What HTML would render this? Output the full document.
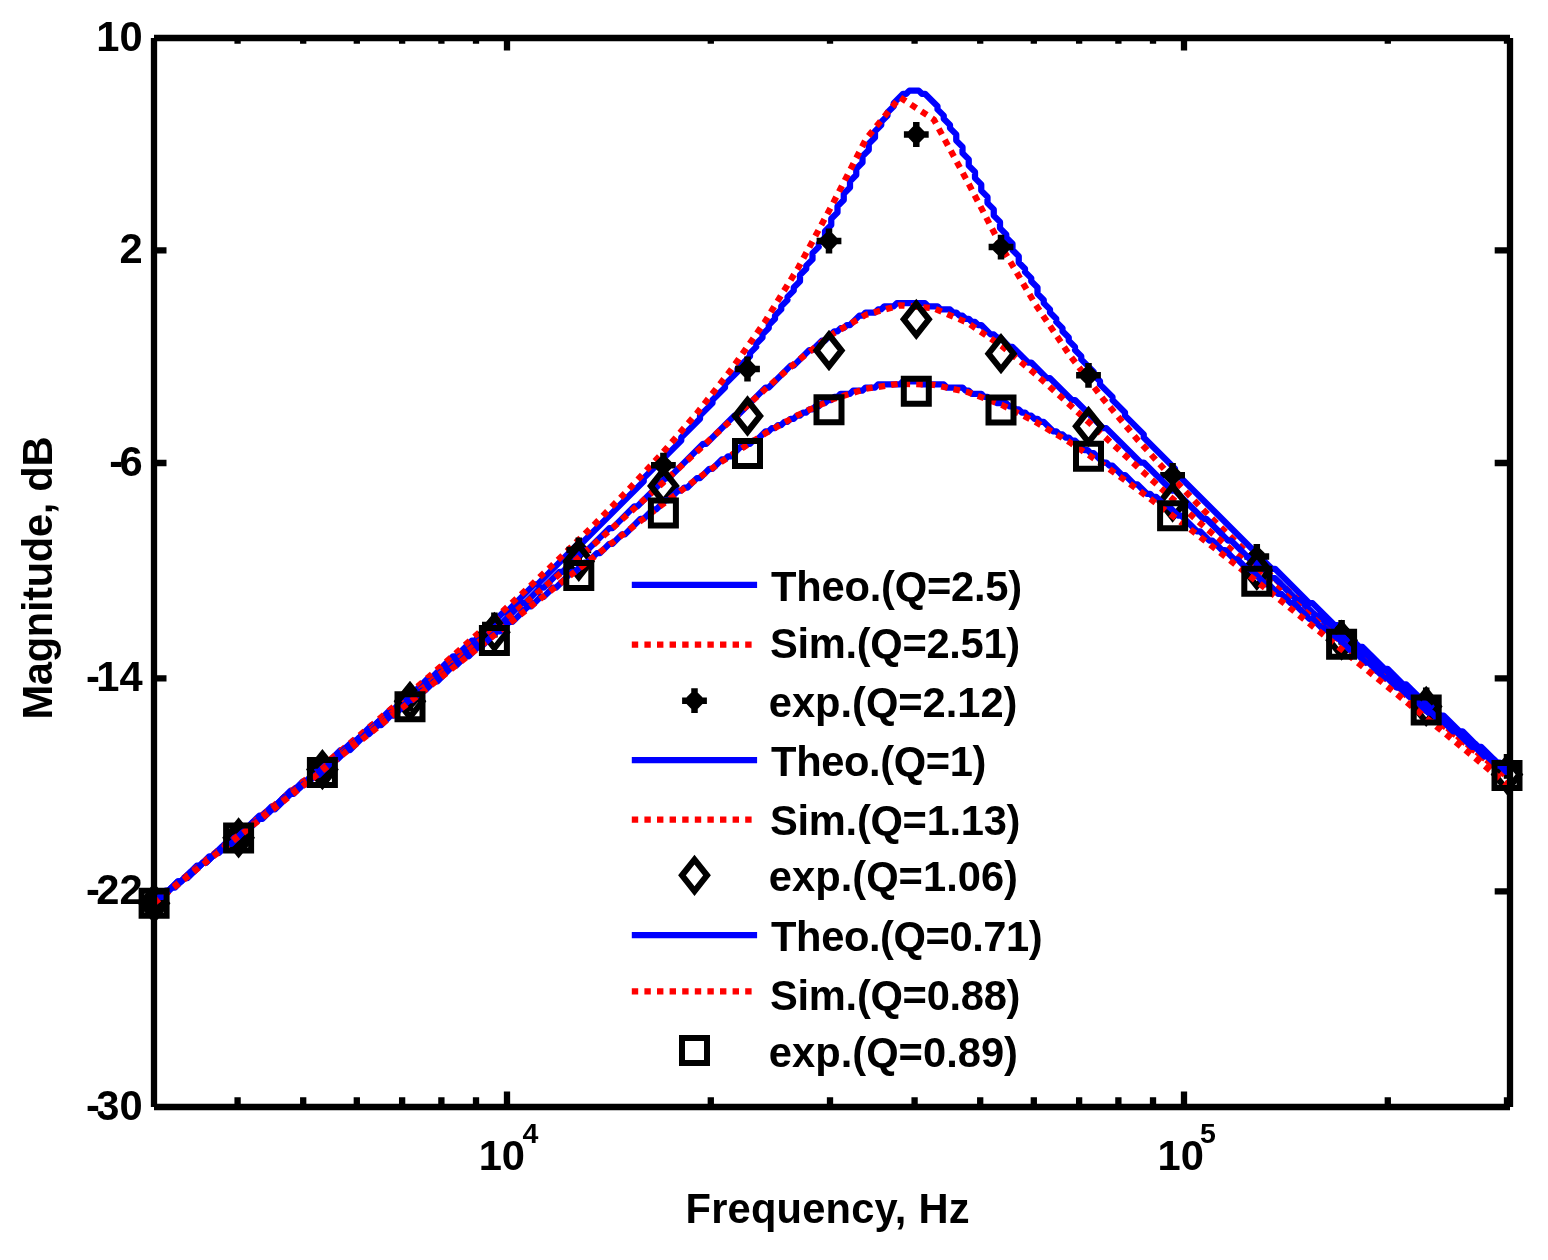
<!DOCTYPE html>
<html lang="en"><head><meta charset="utf-8"><title>Magnitude response</title>
<style>html,body{margin:0;padding:0;background:#fff}svg{display:block}</style></head>
<body>
<svg width="1548" height="1260" viewBox="0 0 1548 1260" style="display:block">
<rect width="1548" height="1260" fill="#fff"/>
<path d="M154.00,903.12 L156.25,900.88 L156.25,900.00 L165.62,890.62 L168.75,890.62 L178.12,881.25 L181.25,881.25 L196.88,865.62 L200.00,865.62 L209.38,856.25 L212.50,856.25 L228.12,840.62 L231.25,840.62 L240.62,831.25 L243.75,831.25 L259.38,815.62 L262.50,815.62 L271.88,806.25 L275.00,806.25 L290.62,790.62 L293.75,790.62 L303.12,781.25 L306.25,781.25 L321.88,765.62 L325.00,765.62 L340.62,750.00 L343.75,750.00 L353.12,740.62 L356.25,740.62 L371.88,725.00 L375.00,725.00 L390.62,709.38 L393.75,709.38 L409.38,693.75 L412.50,693.75 L428.12,678.12 L431.25,678.12 L453.12,656.25 L456.25,656.25 L471.88,640.62 L475.00,640.62 L503.12,612.50 L506.25,612.50 L534.38,584.38 L537.50,584.38 L578.12,543.75 L581.25,543.75 L643.75,481.25 L643.75,478.12 L681.25,440.62 L681.25,437.50 L700.00,418.75 L700.00,415.62 L712.50,403.12 L712.50,400.00 L725.00,387.50 L725.00,384.38 L737.50,371.88 L737.50,368.75 L750.00,356.25 L750.00,353.12 L756.25,346.88 L756.25,343.75 L762.50,337.50 L762.50,334.38 L768.75,328.12 L768.75,325.00 L775.00,318.75 L775.00,315.62 L781.25,309.38 L781.25,306.25 L787.50,300.00 L787.50,296.88 L793.75,290.62 L793.75,287.50 L800.00,281.25 L800.00,275.00 L806.25,268.75 L806.25,265.62 L812.50,259.38 L812.50,253.12 L818.75,246.88 L818.75,243.75 L825.00,237.50 L825.00,231.25 L831.25,225.00 L831.25,218.75 L837.50,212.50 L837.50,206.25 L843.75,200.00 L843.75,193.75 L850.00,187.50 L850.00,181.25 L856.25,175.00 L856.25,168.75 L862.50,162.50 L862.50,156.25 L868.75,150.00 L868.75,143.75 L875.00,137.50 L875.00,131.25 L881.25,125.00 L881.25,121.88 L887.50,115.62 L887.50,112.50 L893.75,106.25 L893.75,103.12 L903.12,93.75 L906.25,93.75 L909.38,90.62 L918.75,90.62 L921.88,93.75 L925.00,93.75 L937.50,106.25 L937.50,109.38 L943.75,115.62 L943.75,118.75 L950.00,125.00 L950.00,128.12 L956.25,134.38 L956.25,140.62 L962.50,146.88 L962.50,153.12 L968.75,159.38 L968.75,165.62 L975.00,171.88 L975.00,178.12 L981.25,184.38 L981.25,190.62 L987.50,196.88 L987.50,203.12 L993.75,209.38 L993.75,215.62 L1000.00,221.88 L1000.00,228.12 L1006.25,234.38 L1006.25,237.50 L1012.50,243.75 L1012.50,250.00 L1018.75,256.25 L1018.75,262.50 L1025.00,268.75 L1025.00,271.88 L1031.25,278.12 L1031.25,281.25 L1037.50,287.50 L1037.50,293.75 L1043.75,300.00 L1043.75,303.12 L1050.00,309.38 L1050.00,312.50 L1056.25,318.75 L1056.25,321.88 L1062.50,328.12 L1062.50,331.25 L1068.75,337.50 L1068.75,340.62 L1075.00,346.88 L1075.00,350.00 L1081.25,356.25 L1081.25,359.38 L1093.75,371.88 L1093.75,375.00 L1100.00,381.25 L1100.00,384.38 L1112.50,396.88 L1112.50,400.00 L1125.00,412.50 L1125.00,415.62 L1143.75,434.38 L1143.75,437.50 L1175.00,468.75 L1175.00,471.88 L1271.88,568.75 L1275.00,568.75 L1309.38,603.12 L1312.50,603.12 L1334.38,625.00 L1337.50,625.00 L1359.38,646.88 L1362.50,646.88 L1384.38,668.75 L1387.50,668.75 L1403.12,684.38 L1406.25,684.38 L1421.88,700.00 L1425.00,700.00 L1440.62,715.62 L1443.75,715.62 L1459.38,731.25 L1462.50,731.25 L1478.12,746.88 L1481.25,746.88 L1496.88,762.50 L1500.00,762.50 L1506.25,768.75 L1507.00,768.75" fill="none" stroke="#0000ff" stroke-width="6.25" stroke-linejoin="round"/>
<path d="M154.00,901.82 L155.30,900.78 L189.15,873.67 L223.00,846.57 L256.85,819.34 L290.70,791.92 L324.55,764.27 L358.40,736.33 L392.25,708.01 L426.10,679.25 L459.95,649.64 L493.80,619.41 L527.65,588.44 L561.50,556.57 L595.35,523.51 L629.20,488.88 L663.05,452.27 L696.90,413.19 L730.75,370.28 L764.60,322.22 L798.45,267.35 L832.30,204.65 L866.15,138.84 L900.00,97.31 L933.85,119.56 L967.70,181.94 L1001.55,246.85 L1035.40,304.35 L1069.25,354.49 L1103.10,398.91 L1136.95,439.07 L1170.80,476.23 L1204.65,511.29 L1238.50,544.54 L1272.35,576.39 L1306.20,607.17 L1340.05,637.13 L1373.90,666.44 L1407.75,695.05 L1441.60,723.15 L1475.45,750.93 L1507.00,776.61" fill="none" stroke="#ff0000" stroke-width="6.25" stroke-dasharray="6.5 6.1" stroke-linejoin="round"/>
<g fill="none" stroke="#000" stroke-width="6.5" stroke-linejoin="miter" stroke-miterlimit="10">
<path d="M141.70,903.30H166.50M154.10,890.90V915.70M148.45,897.65L159.75,908.95M148.45,908.95L159.75,897.65"/>
<path d="M226.20,838.00H251.00M238.60,825.60V850.40M232.95,832.35L244.25,843.65M232.95,843.65L244.25,832.35"/>
<path d="M310.00,770.00H334.80M322.40,757.60V782.40M316.75,764.35L328.05,775.65M316.75,775.65L328.05,764.35"/>
<path d="M397.60,699.00H422.40M410.00,686.60V711.40M404.35,693.35L415.65,704.65M404.35,704.65L415.65,693.35"/>
<path d="M482.00,625.00H506.80M494.40,612.60V637.40M488.75,619.35L500.05,630.65M488.75,630.65L500.05,619.35"/>
<path d="M566.40,550.00H591.20M578.80,537.60V562.40M573.15,544.35L584.45,555.65M573.15,555.65L584.45,544.35"/>
<path d="M651.00,465.20H675.80M663.40,452.80V477.60M657.75,459.55L669.05,470.85M657.75,470.85L669.05,459.55"/>
<path d="M735.10,369.00H759.90M747.50,356.60V381.40M741.85,363.35L753.15,374.65M741.85,374.65L753.15,363.35"/>
<path d="M816.60,241.00H841.40M829.00,228.60V253.40M823.35,235.35L834.65,246.65M823.35,246.65L834.65,235.35"/>
<path d="M903.90,134.50H928.70M916.30,122.10V146.90M910.65,128.85L921.95,140.15M910.65,140.15L921.95,128.85"/>
<path d="M988.60,247.10H1013.40M1001.00,234.70V259.50M995.35,241.45L1006.65,252.75M995.35,252.75L1006.65,241.45"/>
<path d="M1076.10,375.30H1100.90M1088.50,362.90V387.70M1082.85,369.65L1094.15,380.95M1082.85,380.95L1094.15,369.65"/>
<path d="M1160.20,475.30H1185.00M1172.60,462.90V487.70M1166.95,469.65L1178.25,480.95M1166.95,480.95L1178.25,469.65"/>
<path d="M1244.40,556.40H1269.20M1256.80,544.00V568.80M1251.15,550.75L1262.45,562.05M1251.15,562.05L1262.45,550.75"/>
<path d="M1329.20,632.40H1354.00M1341.60,620.00V644.80M1335.95,626.75L1347.25,638.05M1335.95,638.05L1347.25,626.75"/>
<path d="M1413.80,700.00H1438.60M1426.20,687.60V712.40M1420.55,694.35L1431.85,705.65M1420.55,705.65L1431.85,694.35"/>
<path d="M1494.60,766.40H1519.40M1507.00,754.00V778.80M1501.35,760.75L1512.65,772.05M1501.35,772.05L1512.65,760.75"/>
</g>
<path d="M154.00,903.12 L156.25,900.88 L156.25,900.00 L159.38,896.88 L162.50,896.88 L178.12,881.25 L181.25,881.25 L190.62,871.88 L193.75,871.88 L203.12,862.50 L206.25,862.50 L221.88,846.88 L225.00,846.88 L234.38,837.50 L237.50,837.50 L253.12,821.88 L256.25,821.88 L265.62,812.50 L268.75,812.50 L284.38,796.88 L287.50,796.88 L296.88,787.50 L300.00,787.50 L315.62,771.88 L318.75,771.88 L328.12,762.50 L331.25,762.50 L346.88,746.88 L350.00,746.88 L359.38,737.50 L362.50,737.50 L378.12,721.88 L381.25,721.88 L390.62,712.50 L393.75,712.50 L409.38,696.88 L412.50,696.88 L428.12,681.25 L431.25,681.25 L440.62,671.88 L443.75,671.88 L459.38,656.25 L462.50,656.25 L478.12,640.62 L481.25,640.62 L496.88,625.00 L500.00,625.00 L521.88,603.12 L525.00,603.12 L540.62,587.50 L543.75,587.50 L559.38,571.88 L562.50,571.88 L584.38,550.00 L587.50,550.00 L609.38,528.12 L612.50,528.12 L634.38,506.25 L637.50,506.25 L665.62,478.12 L668.75,478.12 L703.12,443.75 L706.25,443.75 L734.38,415.62 L737.50,415.62 L765.62,387.50 L768.75,387.50 L790.62,365.62 L793.75,365.62 L809.38,350.00 L812.50,350.00 L821.88,340.62 L825.00,340.62 L834.38,331.25 L837.50,331.25 L840.62,328.12 L843.75,328.12 L846.88,325.00 L850.00,325.00 L859.38,315.62 L862.50,315.62 L865.62,312.50 L875.00,312.50 L878.12,309.38 L881.25,309.38 L884.38,306.25 L893.75,306.25 L896.88,303.12 L925.00,303.12 L928.12,306.25 L937.50,306.25 L940.62,309.38 L950.00,309.38 L953.12,312.50 L956.25,312.50 L959.38,315.62 L962.50,315.62 L965.62,318.75 L968.75,318.75 L971.88,321.88 L975.00,321.88 L978.12,325.00 L981.25,325.00 L990.62,334.38 L993.75,334.38 L996.88,337.50 L1000.00,337.50 L1009.38,346.88 L1012.50,346.88 L1028.12,362.50 L1031.25,362.50 L1046.88,378.12 L1050.00,378.12 L1071.88,400.00 L1075.00,400.00 L1103.12,428.12 L1106.25,428.12 L1140.62,462.50 L1143.75,462.50 L1171.88,490.62 L1175.00,490.62 L1203.12,518.75 L1206.25,518.75 L1228.12,540.62 L1231.25,540.62 L1253.12,562.50 L1256.25,562.50 L1271.88,578.12 L1275.00,578.12 L1296.88,600.00 L1300.00,600.00 L1315.62,615.62 L1318.75,615.62 L1334.38,631.25 L1337.50,631.25 L1353.12,646.88 L1356.25,646.88 L1371.88,662.50 L1375.00,662.50 L1390.62,678.12 L1393.75,678.12 L1409.38,693.75 L1412.50,693.75 L1421.88,703.12 L1425.00,703.12 L1440.62,718.75 L1443.75,718.75 L1459.38,734.38 L1462.50,734.38 L1471.88,743.75 L1475.00,743.75 L1490.62,759.38 L1493.75,759.38 L1503.12,768.75 L1506.25,768.75 L1507.00,769.50 L1507.00,771.88" fill="none" stroke="#0000ff" stroke-width="6.25" stroke-linejoin="round"/>
<path d="M154.00,902.49 L155.30,901.45 L189.15,874.54 L223.00,847.71 L256.85,820.84 L290.70,793.91 L324.55,766.93 L358.40,739.86 L392.25,712.71 L426.10,685.42 L459.95,657.72 L493.80,629.67 L527.65,601.28 L561.50,572.44 L595.35,543.09 L629.20,513.14 L663.05,482.59 L696.90,451.63 L730.75,420.59 L764.60,389.76 L798.45,360.26 L832.30,334.17 L866.15,314.65 L900.00,305.27 L933.85,308.24 L967.70,322.84 L1001.55,345.93 L1035.40,373.97 L1069.25,404.31 L1103.10,435.37 L1136.95,466.39 L1170.80,497.23 L1204.65,526.93 L1238.50,555.76 L1272.35,584.08 L1306.20,612.31 L1340.05,640.72 L1373.90,668.92 L1407.75,696.66 L1441.60,724.09 L1475.45,751.36 L1507.00,776.66" fill="none" stroke="#ff0000" stroke-width="6.25" stroke-dasharray="6.5 6.1" stroke-linejoin="round"/>
<g fill="none" stroke="#000" stroke-width="6.1" stroke-linejoin="miter" stroke-miterlimit="10">
<path d="M154.10,887.55L166.60,903.30L154.10,919.05L141.60,903.30Z"/>
<path d="M238.60,822.05L251.10,837.80L238.60,853.55L226.10,837.80Z"/>
<path d="M322.40,753.85L334.90,769.60L322.40,785.35L309.90,769.60Z"/>
<path d="M410.00,685.55L422.50,701.30L410.00,717.05L397.50,701.30Z"/>
<path d="M494.40,616.55L506.90,632.30L494.40,648.05L481.90,632.30Z"/>
<path d="M578.80,545.55L591.30,561.30L578.80,577.05L566.30,561.30Z"/>
<path d="M663.40,470.25L675.90,486.00L663.40,501.75L650.90,486.00Z"/>
<path d="M747.50,400.25L760.00,416.00L747.50,431.75L735.00,416.00Z"/>
<path d="M829.00,334.75L841.50,350.50L829.00,366.25L816.50,350.50Z"/>
<path d="M916.30,303.55L928.80,319.30L916.30,335.05L903.80,319.30Z"/>
<path d="M1001.00,337.95L1013.50,353.70L1001.00,369.45L988.50,353.70Z"/>
<path d="M1088.50,410.55L1101.00,426.30L1088.50,442.05L1076.00,426.30Z"/>
<path d="M1172.60,486.25L1185.10,502.00L1172.60,517.75L1160.10,502.00Z"/>
<path d="M1256.80,554.55L1269.30,570.30L1256.80,586.05L1244.30,570.30Z"/>
<path d="M1341.60,624.45L1354.10,640.20L1341.60,655.95L1329.10,640.20Z"/>
<path d="M1426.20,690.65L1438.70,706.40L1426.20,722.15L1413.70,706.40Z"/>
<path d="M1507.00,758.75L1519.50,774.50L1507.00,790.25L1494.50,774.50Z"/>
</g>
<path d="M154.00,903.12 L156.25,900.88 L156.25,900.00 L159.38,896.88 L162.50,896.88 L171.88,887.50 L175.00,887.50 L184.38,878.12 L187.50,878.12 L203.12,862.50 L206.25,862.50 L215.62,853.12 L218.75,853.12 L228.12,843.75 L231.25,843.75 L246.88,828.12 L250.00,828.12 L259.38,818.75 L262.50,818.75 L271.88,809.38 L275.00,809.38 L290.62,793.75 L293.75,793.75 L303.12,784.38 L306.25,784.38 L315.62,775.00 L318.75,775.00 L334.38,759.38 L337.50,759.38 L346.88,750.00 L350.00,750.00 L365.62,734.38 L368.75,734.38 L378.12,725.00 L381.25,725.00 L390.62,715.62 L393.75,715.62 L409.38,700.00 L412.50,700.00 L421.88,690.62 L425.00,690.62 L434.38,681.25 L437.50,681.25 L453.12,665.62 L456.25,665.62 L465.62,656.25 L468.75,656.25 L478.12,646.88 L481.25,646.88 L496.88,631.25 L500.00,631.25 L509.38,621.88 L512.50,621.88 L528.12,606.25 L531.25,606.25 L540.62,596.88 L543.75,596.88 L553.12,587.50 L556.25,587.50 L571.88,571.88 L575.00,571.88 L584.38,562.50 L587.50,562.50 L596.88,553.12 L600.00,553.12 L609.38,543.75 L612.50,543.75 L621.88,534.38 L625.00,534.38 L640.62,518.75 L643.75,518.75 L653.12,509.38 L656.25,509.38 L665.62,500.00 L668.75,500.00 L678.12,490.62 L681.25,490.62 L684.38,487.50 L687.50,487.50 L696.88,478.12 L700.00,478.12 L709.38,468.75 L712.50,468.75 L721.88,459.38 L725.00,459.38 L728.12,456.25 L731.25,456.25 L740.62,446.88 L743.75,446.88 L746.88,443.75 L750.00,443.75 L753.12,440.62 L756.25,440.62 L765.62,431.25 L768.75,431.25 L771.88,428.12 L775.00,428.12 L778.12,425.00 L781.25,425.00 L784.38,421.88 L787.50,421.88 L790.62,418.75 L793.75,418.75 L796.88,415.62 L800.00,415.62 L803.12,412.50 L806.25,412.50 L809.38,409.38 L812.50,409.38 L815.62,406.25 L818.75,406.25 L821.88,403.12 L825.00,403.12 L828.12,400.00 L831.25,400.00 L834.38,396.88 L837.50,396.88 L840.62,393.75 L850.00,393.75 L853.12,390.62 L862.50,390.62 L865.62,387.50 L875.00,387.50 L878.12,384.38 L900.00,384.38 L903.12,381.25 L918.75,381.25 L921.88,384.38 L943.75,384.38 L946.88,387.50 L962.50,387.50 L965.62,390.62 L968.75,390.62 L971.88,393.75 L981.25,393.75 L984.38,396.88 L987.50,396.88 L990.62,400.00 L993.75,400.00 L996.88,403.12 L1006.25,403.12 L1009.38,406.25 L1012.50,406.25 L1015.62,409.38 L1018.75,409.38 L1021.88,412.50 L1025.00,412.50 L1028.12,415.62 L1031.25,415.62 L1034.38,418.75 L1037.50,418.75 L1040.62,421.88 L1043.75,421.88 L1053.12,431.25 L1056.25,431.25 L1059.38,434.38 L1062.50,434.38 L1065.62,437.50 L1068.75,437.50 L1071.88,440.62 L1075.00,440.62 L1084.38,450.00 L1087.50,450.00 L1090.62,453.12 L1093.75,453.12 L1103.12,462.50 L1106.25,462.50 L1109.38,465.62 L1112.50,465.62 L1121.88,475.00 L1125.00,475.00 L1134.38,484.38 L1137.50,484.38 L1146.88,493.75 L1150.00,493.75 L1153.12,496.88 L1156.25,496.88 L1165.62,506.25 L1168.75,506.25 L1178.12,515.62 L1181.25,515.62 L1196.88,531.25 L1200.00,531.25 L1209.38,540.62 L1212.50,540.62 L1221.88,550.00 L1225.00,550.00 L1234.38,559.38 L1237.50,559.38 L1246.88,568.75 L1250.00,568.75 L1265.62,584.38 L1268.75,584.38 L1278.12,593.75 L1281.25,593.75 L1290.62,603.12 L1293.75,603.12 L1309.38,618.75 L1312.50,618.75 L1321.88,628.12 L1325.00,628.12 L1334.38,637.50 L1337.50,637.50 L1353.12,653.12 L1356.25,653.12 L1365.62,662.50 L1368.75,662.50 L1384.38,678.12 L1387.50,678.12 L1396.88,687.50 L1400.00,687.50 L1409.38,696.88 L1412.50,696.88 L1428.12,712.50 L1431.25,712.50 L1440.62,721.88 L1443.75,721.88 L1453.12,731.25 L1456.25,731.25 L1471.88,746.88 L1475.00,746.88 L1484.38,756.25 L1487.50,756.25 L1496.88,765.62 L1500.00,765.62 L1506.25,771.88 L1507.00,771.88" fill="none" stroke="#0000ff" stroke-width="6.25" stroke-linejoin="round"/>
<path d="M154.00,903.15 L155.30,902.11 L189.15,875.36 L223.00,848.73 L256.85,822.10 L290.70,795.48 L324.55,768.87 L358.40,742.26 L392.25,715.68 L426.10,689.11 L459.95,662.39 L493.80,635.60 L527.65,608.87 L561.50,582.25 L595.35,555.80 L629.20,529.65 L663.05,503.97 L696.90,479.06 L730.75,455.43 L764.60,433.79 L798.45,414.75 L832.30,399.33 L866.15,388.64 L900.00,383.64 L933.85,384.85 L967.70,392.14 L1001.55,404.80 L1035.40,421.79 L1069.25,442.02 L1103.10,464.54 L1136.95,488.91 L1170.80,514.33 L1204.65,540.43 L1238.50,566.98 L1272.35,593.85 L1306.20,620.94 L1340.05,648.23 L1373.90,675.70 L1407.75,703.06 L1441.60,730.60 L1475.45,758.38 L1507.00,784.52" fill="none" stroke="#ff0000" stroke-width="6.25" stroke-dasharray="6.5 6.1" stroke-linejoin="round"/>
<g fill="none" stroke="#000" stroke-width="6.0" stroke-linejoin="miter" stroke-miterlimit="10">
<path d="M141.60,890.80H166.60V915.80H141.60Z"/>
<path d="M226.10,825.50H251.10V850.50H226.10Z"/>
<path d="M309.90,759.90H334.90V784.90H309.90Z"/>
<path d="M397.50,694.30H422.50V719.30H397.50Z"/>
<path d="M481.90,628.10H506.90V653.10H481.90Z"/>
<path d="M566.30,563.00H591.30V588.00H566.30Z"/>
<path d="M650.90,500.50H675.90V525.50H650.90Z"/>
<path d="M735.00,441.00H760.00V466.00H735.00Z"/>
<path d="M816.50,397.30H841.50V422.30H816.50Z"/>
<path d="M903.80,378.70H928.80V403.70H903.80Z"/>
<path d="M988.50,397.40H1013.50V422.40H988.50Z"/>
<path d="M1076.00,443.80H1101.00V468.80H1076.00Z"/>
<path d="M1160.10,503.30H1185.10V528.30H1160.10Z"/>
<path d="M1244.30,568.80H1269.30V593.80H1244.30Z"/>
<path d="M1329.10,631.80H1354.10V656.80H1329.10Z"/>
<path d="M1413.70,697.50H1438.70V722.50H1413.70Z"/>
<path d="M1494.50,763.10H1519.50V788.10H1494.50Z"/>
</g>
<g stroke="#000" stroke-width="6.3" fill="none" stroke-linecap="butt">
<path d="M154.0,38.0V1107.0M1510.0,38.0V1107.0M154.0,38.0H1510.0M154.0,1107.0H1510.0"/>
<path d="M237.59,1107.0V1097.2M237.59,38.0V43.8"/>
<path d="M303.20,1107.0V1097.2M303.20,38.0V43.8"/>
<path d="M356.81,1107.0V1097.2M356.81,38.0V43.8"/>
<path d="M402.13,1107.0V1097.2M402.13,38.0V43.8"/>
<path d="M441.39,1107.0V1097.2M441.39,38.0V43.8"/>
<path d="M476.02,1107.0V1097.2M476.02,38.0V43.8"/>
<path d="M507.00,1107.0V1091.5M507.00,38.0V50.5"/>
<path d="M710.80,1107.0V1097.2M710.80,38.0V43.8"/>
<path d="M830.01,1107.0V1097.2M830.01,38.0V43.8"/>
<path d="M914.59,1107.0V1097.2M914.59,38.0V43.8"/>
<path d="M980.20,1107.0V1097.2M980.20,38.0V43.8"/>
<path d="M1033.81,1107.0V1097.2M1033.81,38.0V43.8"/>
<path d="M1079.13,1107.0V1097.2M1079.13,38.0V43.8"/>
<path d="M1118.39,1107.0V1097.2M1118.39,38.0V43.8"/>
<path d="M1153.02,1107.0V1097.2M1153.02,38.0V43.8"/>
<path d="M1184.00,1107.0V1091.5M1184.00,38.0V50.5"/>
<path d="M1387.80,1107.0V1097.2M1387.80,38.0V43.8"/>
<path d="M1507.01,1107.0V1097.2M1507.01,38.0V43.8"/>
<path d="M154.0,250.4H166.5M1510.0,250.4H1494.7"/>
<path d="M154.0,463.0H166.5M1510.0,463.0H1494.7"/>
<path d="M154.0,678.4H166.5M1510.0,678.4H1494.7"/>
<path d="M154.0,891.4H166.5M1510.0,891.4H1494.7"/>
</g>
<g font-family="'Liberation Sans', sans-serif" font-weight="bold" font-size="41.67px" fill="#000">
<text x="142.6" y="51.0" text-anchor="end">10</text>
<text x="142.6" y="263.4" text-anchor="end">2</text>
<text x="142.6" y="476.0" text-anchor="end">-<tspan dx="-3.6">6</tspan></text>
<text x="142.6" y="691.4" text-anchor="end">-<tspan dx="-3.6">14</tspan></text>
<text x="142.6" y="904.4" text-anchor="end">-<tspan dx="-3.6">22</tspan></text>
<text x="142.6" y="1120.0" text-anchor="end">-<tspan dx="-3.6">30</tspan></text>
<text x="478.7" y="1170.3">10</text>
<text x="522.5" y="1143.2" font-size="28.5px">4</text>
<text x="1157.6" y="1170.3">10</text>
<text x="1200.1" y="1143.2" font-size="28.5px">5</text>
<text x="685.5" y="1223.3" textLength="284" lengthAdjust="spacing">Frequency, Hz</text>
<text transform="translate(52.0,719.5) rotate(-90)" textLength="283" lengthAdjust="spacing">Magnitude, dB</text>
<text x="771.1" y="601.2" letter-spacing="-0.218">Theo.(Q=2.5)</text>
<text x="770.1" y="657.7" letter-spacing="-0.318">Sim.(Q=2.51)</text>
<text x="768.8" y="716.6" letter-spacing="-0.027">exp.(Q=2.12)</text>
<text x="771.1" y="776.1" letter-spacing="-0.389">Theo.(Q=1)</text>
<text x="770.1" y="834.6" letter-spacing="-0.291">Sim.(Q=1.13)</text>
<text x="768.8" y="891.3" letter-spacing="0.027">exp.(Q=1.06)</text>
<text x="771.1" y="951.0" letter-spacing="-0.417">Theo.(Q=0.71)</text>
<text x="770.1" y="1010.4" letter-spacing="-0.291">Sim.(Q=0.88)</text>
<text x="768.8" y="1066.8" letter-spacing="0.027">exp.(Q=0.89)</text>
</g>
<path d="M631.8,584.9H757.1" stroke="#0000ff" stroke-width="6.25" fill="none"/>
<path d="M631.8,644.6H757.1" stroke="#ff0000" stroke-width="6.25" stroke-dasharray="6.4 6.2" fill="none"/>
<g fill="none" stroke="#000" stroke-width="6.5" stroke-miterlimit="10"><path d="M682.10,700.70H706.90M694.50,688.30V713.10M688.85,695.05L700.15,706.35M688.85,706.35L700.15,695.05"/></g>
<path d="M631.8,760.0H757.1" stroke="#0000ff" stroke-width="6.25" fill="none"/>
<path d="M631.8,819.6H757.1" stroke="#ff0000" stroke-width="6.25" stroke-dasharray="6.4 6.2" fill="none"/>
<g fill="none" stroke="#000" stroke-width="6.1" stroke-miterlimit="10"><path d="M694.50,859.55L707.00,875.30L694.50,891.05L682.00,875.30Z"/></g>
<path d="M631.8,935.0H757.1" stroke="#0000ff" stroke-width="6.25" fill="none"/>
<path d="M631.8,991.4H757.1" stroke="#ff0000" stroke-width="6.25" stroke-dasharray="6.4 6.2" fill="none"/>
<g fill="none" stroke="#000" stroke-width="6.0" stroke-miterlimit="10"><path d="M682.00,1038.00H707.00V1063.00H682.00Z"/></g>
</svg>
</body></html>
